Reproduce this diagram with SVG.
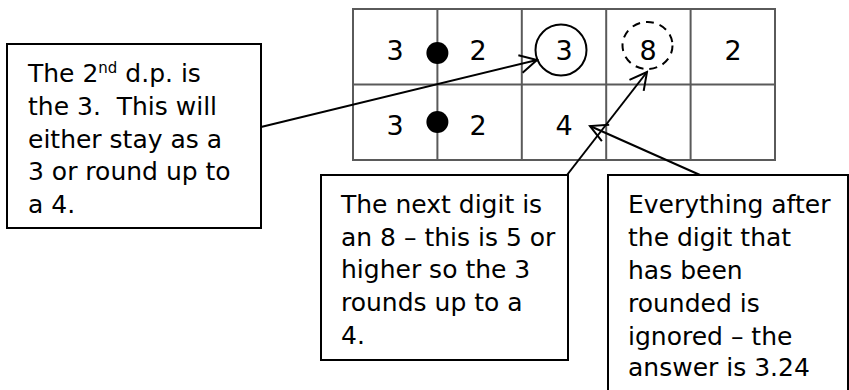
<svg xmlns="http://www.w3.org/2000/svg" width="849" height="390" viewBox="0 0 849 390">
  <style>
    .grid { fill: none; stroke: #5a5a5a; stroke-width: 2; }
    .digit { font-family: "DejaVu Sans", sans-serif; font-size: 27px; fill: #000; text-anchor: middle; }
    .box { fill: #fff; stroke: #000; stroke-width: 2; }
    .note { font-family: "DejaVu Sans", sans-serif; font-size: 25px; fill: #000; white-space: pre; }
    .conn { fill: none; stroke: #000; stroke-width: 2; }
  </style>
  <defs>
    <marker id="open-arrow" markerUnits="userSpaceOnUse" markerWidth="20" markerHeight="22" viewBox="-1 -11 20 22" refX="17" refY="0" orient="auto">
      <path d="M0,-9 L17,0 L0,9" fill="none" stroke="#000" stroke-width="2"/>
    </marker>
  </defs>

  <!-- place-value table -->
  <g id="table">
    <rect class="grid" x="353" y="9" width="422" height="151"/>
    <line class="grid" x1="353" y1="84.5" x2="775" y2="84.5"/>
    <line class="grid" x1="437.4" y1="9" x2="437.4" y2="160"/>
    <line class="grid" x1="521.8" y1="9" x2="521.8" y2="160"/>
    <line class="grid" x1="606.2" y1="9" x2="606.2" y2="160"/>
    <line class="grid" x1="690.6" y1="9" x2="690.6" y2="160"/>

    <circle cx="437.4" cy="53" r="11" fill="#000"/>
    <circle cx="437.4" cy="122" r="11" fill="#000"/>

    <text class="digit" x="395" y="60">3</text>
    <text class="digit" x="478" y="60">2</text>
    <text class="digit" x="564" y="60">3</text>
    <text class="digit" x="648" y="60">8</text>
    <text class="digit" x="733" y="60">2</text>

    <text class="digit" x="395" y="135">3</text>
    <text class="digit" x="478" y="135">2</text>
    <text class="digit" x="564" y="135">4</text>

    <circle cx="561" cy="50" r="25.5" fill="none" stroke="#000" stroke-width="2"/>
    <ellipse cx="647.5" cy="45.5" rx="25" ry="23.5" fill="none" stroke="#000" stroke-width="2" stroke-dasharray="8 6"/>
  </g>

  <!-- connectors -->
  <g id="connectors">
    <line class="conn" x1="261" y1="127" x2="537" y2="60" marker-end="url(#open-arrow)"/>
    <line class="conn" x1="567" y1="175" x2="647" y2="72" marker-end="url(#open-arrow)"/>
    <line class="conn" x1="700" y1="175" x2="590" y2="126" marker-end="url(#open-arrow)"/>
  </g>

  <!-- note: second decimal place -->
  <g id="note-second-dp">
    <rect class="box" x="7" y="44" width="254" height="184"/>
    <text class="note" x="28" y="82">The 2<tspan font-size="15" dy="-9">nd</tspan><tspan dy="9"> d.p. is</tspan></text>
    <text class="note" x="28" y="115">the 3.  This will</text>
    <text class="note" x="28" y="148">either stay as a</text>
    <text class="note" x="28" y="180">3 or round up to</text>
    <text class="note" x="28" y="213">a 4.</text>
  </g>

  <!-- note: next digit -->
  <g id="note-next-digit">
    <rect class="box" x="321" y="175" width="247" height="185"/>
    <text class="note" x="341" y="213">The next digit is</text>
    <text class="note" x="341" y="246">an 8 – this is 5 or</text>
    <text class="note" x="341" y="278">higher so the 3</text>
    <text class="note" x="341" y="311">rounds up to a</text>
    <text class="note" x="341" y="344">4.</text>
  </g>

  <!-- note: digits after the rounded one -->
  <g id="note-ignored">
    <rect class="box" x="608" y="175" width="240" height="225"/>
    <text class="note" x="628" y="213">Everything after</text>
    <text class="note" x="628" y="246">the digit that</text>
    <text class="note" x="628" y="279">has been</text>
    <text class="note" x="628" y="312">rounded is</text>
    <text class="note" x="628" y="345">ignored – the</text>
    <text class="note" x="628" y="376">answer is 3.24</text>
  </g>
</svg>
